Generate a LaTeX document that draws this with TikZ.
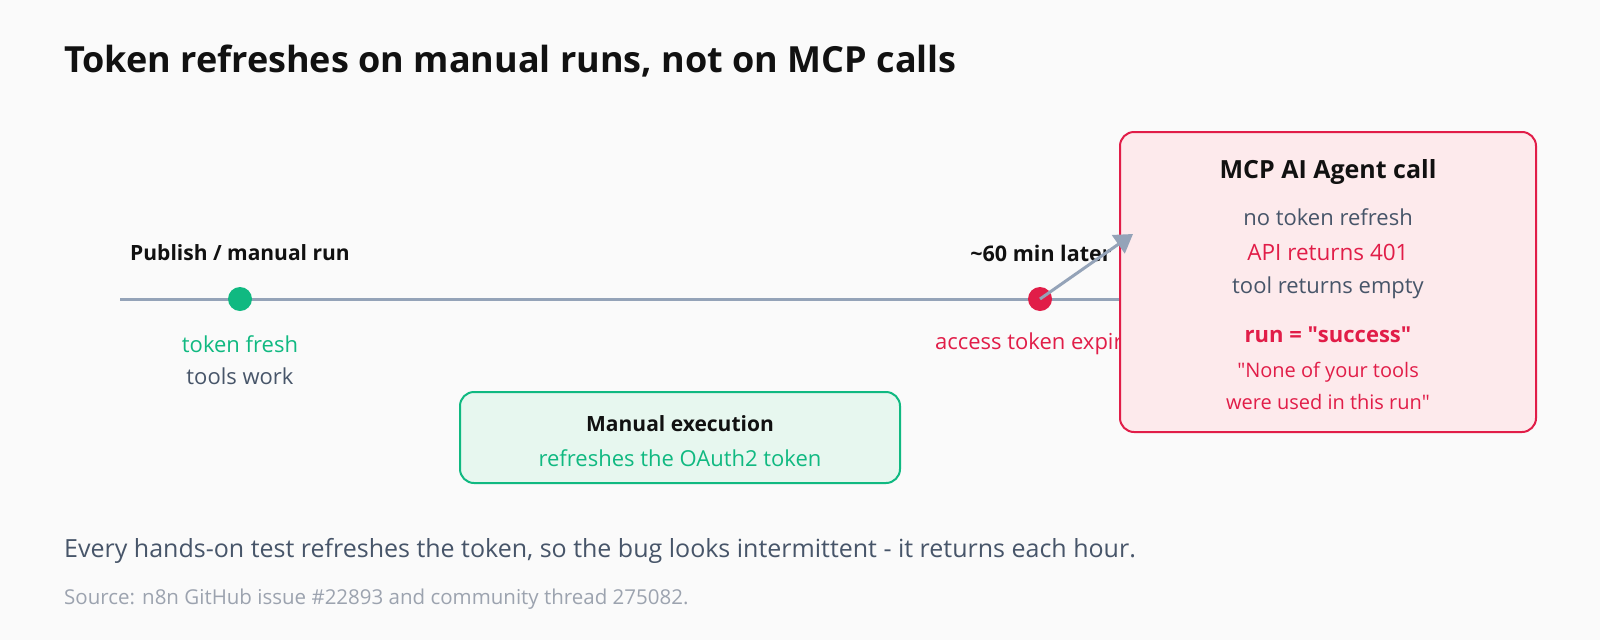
\documentclass[tikz,border=0pt]{standalone}
\usepackage{fontspec}
\setmainfont{Open Sans}
\usetikzlibrary{arrows.meta}
\definecolor{bg}{HTML}{FAFAFA}
\definecolor{axis}{HTML}{94A3B8}
\definecolor{okgreen}{HTML}{10B981}
\definecolor{errred}{HTML}{E11D48}
\definecolor{slate}{HTML}{475569}
\definecolor{ink}{HTML}{111111}
\definecolor{muted}{HTML}{9CA3AF}
\definecolor{pinkfill}{HTML}{FDEAEC}
\definecolor{mintfill}{HTML}{E7F7EF}
\newcommand{\qq}{\textquotedbl}
\tikzset{
  txt/.style={inner sep=0pt, anchor=center, align=center},
  evbox/.style={draw, line width=2pt, rounded corners=14pt},
  dotmark/.style={circle, inner sep=0pt, minimum size=24pt},
}
\begin{document}
\begin{tikzpicture}[x=1pt, y=-1pt]
\useasboundingbox[fill=bg] (0,0) rectangle (1600,640);
% title
\node[txt, anchor=west, text=ink, font=\bfseries\fontsize{36}{36}\selectfont] (title) at (64,61) {Token refreshes on manual runs, not on MCP calls};
% timeline
\coordinate (tlstart) at (120,299);
\coordinate (tlend) at (1130,299);
\draw[axis, line width=3pt] (tlstart) -- (tlend);
\node[dotmark, fill=okgreen] (d1) at (240,299) {};
\node[dotmark, fill=errred] (d2) at (1040,299) {};
\node[txt, text=ink, font=\bfseries\fontsize{21}{21}\selectfont] (l1) at (240,253) {Publish / manual run};
\node[txt, text=okgreen, font=\fontsize{22}{22}\selectfont] (s1a) at (240,344) {token fresh};
\node[txt, text=slate, font=\fontsize{22}{22}\selectfont] (s1b) at (240,376) {tools work};
\node[txt, text=ink, font=\bfseries\fontsize{21.5}{21.5}\selectfont] (l2) at (1041,253) {\textasciitilde60 min later};
\node[txt, text=errred, font=\fontsize{22}{22}\selectfont] (s2a) at (1040,344) {access token expires};
% green box
\node[evbox, draw=okgreen, fill=mintfill, minimum width=440pt, minimum height=91pt] (gbox) at (680,437.5) {};
\node[txt, text=ink, font=\bfseries\fontsize{21}{21}\selectfont] (g1) at (680,424) {Manual execution};
\node[txt, text=okgreen, font=\fontsize{22}{22}\selectfont] (g2) at (680,458) {refreshes the OAuth2 token};
% red box
\node[evbox, draw=errred, fill=pinkfill, minimum width=416pt, minimum height=300pt] (rbox) at (1328,282) {};
\node[txt, text=ink, font=\bfseries\fontsize{25}{25}\selectfont] (r1) at (1328,172) {MCP AI Agent call};
\node[txt, text=slate, font=\fontsize{22}{22}\selectfont] (r2) at (1328,217) {no token refresh};
\node[txt, text=errred, font=\fontsize{22.5}{22.5}\selectfont] (r3) at (1328,252) {API returns 401};
\node[txt, text=slate, font=\fontsize{22}{22}\selectfont] (r4) at (1328,288) {tool returns empty};
\node[txt, text=errred, font=\bfseries\fontsize{22}{22}\selectfont] (r5) at (1328,335) {run = \qq success\qq};
\node[txt, text=errred, font=\fontsize{20}{20}\selectfont] (r6) at (1328,372) {\qq None of your tools};
\node[txt, text=errred, font=\fontsize{20}{20}\selectfont] (r7) at (1328,402) {were used in this run\qq};
% arrow
\coordinate (atip) at (1133,234);
\draw[axis, line width=3pt, -{Triangle[length=18pt, width=22pt]}] (d2.center) -- (atip);
% footer
\node[txt, anchor=west, text=slate, font=\fontsize{25}{25}\selectfont] (foot) at (64,551) {Every hands-on test refreshes the token, so the bug looks intermittent - it returns each hour.};
\node[txt, anchor=west, text=muted, font=\fontsize{20.5}{20.5}\selectfont] (src) at (64,599) {Source: n8n GitHub issue \#22893 and community thread 275082.};
\end{tikzpicture}
\end{document}
